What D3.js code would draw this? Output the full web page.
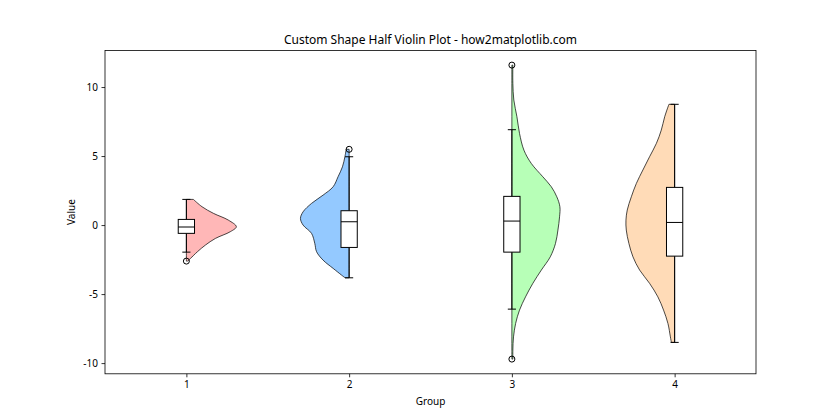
<!DOCTYPE html>
<html><head><meta charset="utf-8">
<script src="https://cdn.jsdelivr.net/npm/d3@7"></script>
<style>body{margin:0;background:#fff}</style>
</head><body>
<svg id="c" width="840" height="420"></svg>
<script>
const groups = [1, 2, 3, 4];
const colors = ['#FF9999', '#66B2FF', '#99FF99', '#FFCC99'];
const sides = ['right', 'left', 'right', 'left'];
const yTicks = [-10, -5, 0, 5, 10];

// violin outlines: value levels and half-widths (in group units)
const v1Val = [1.86, 1.33, 0.85, 0.36, -0.12, -0.48, -0.97, -1.45, -1.93, -2.42, -2.61];
const v1Wid = [0.043, 0.096, 0.166, 0.258, 0.307, 0.27, 0.178, 0.117, 0.068, 0.025, 0.008];
const v2Val = [5.49, 4.95, 4.22, 3.5, 2.78, 2.17, 1.57, 0.96, 0.48, 0.0, -0.6, -1.33, -1.93, -2.54, -3.14, -3.62, -3.82];
const v2Wid = [0.018, 0.026, 0.041, 0.068, 0.098, 0.16, 0.231, 0.283, 0.299, 0.283, 0.231, 0.211, 0.2, 0.16, 0.098, 0.047, 0.025];
const v3Val = [11.59, 10.27, 9.06, 7.85, 6.64, 5.43, 4.47, 3.5, 2.78, 2.05, 1.33, 0.6, -0.36, -1.33, -2.3, -3.26, -4.22, -5.2, -6.16, -7.13, -8.1, -9.06, -9.71];
const v3Wid = [0.006, 0.006, 0.012, 0.031, 0.047, 0.074, 0.119, 0.19, 0.242, 0.276, 0.295, 0.293, 0.283, 0.268, 0.236, 0.181, 0.129, 0.084, 0.047, 0.023, 0.01, 0.006, 0.006];
const v4Val = [8.75, 7.85, 6.88, 5.92, 4.95, 3.99, 3.02, 2.05, 1.09, 0.36, -0.36, -1.33, -2.3, -3.26, -4.22, -5.2, -6.16, -7.13, -8.1, -8.5];
const v4Wid = [0.035, 0.061, 0.082, 0.112, 0.154, 0.195, 0.235, 0.266, 0.291, 0.299, 0.297, 0.281, 0.256, 0.215, 0.154, 0.103, 0.068, 0.041, 0.026, 0.02];
const violinVals = [v1Val, v2Val, v3Val, v4Val];
const violinWids = [v1Wid, v2Wid, v3Wid, v4Wid];

// box plot statistics
const q1 = [-0.60, -1.62, -1.96, -2.25];
const median = [-0.14, 0.24, 0.29, 0.19];
const q3 = [0.41, 1.04, 2.08, 2.73];
const whiskLo = [-1.96, -3.82, -6.09, -8.5];
const whiskHi = [1.86, 4.95, 6.91, 8.75];
const outliers = [[-2.61], [5.49], [11.59, -9.71], []];

const svg = d3.select('#c');
const W = 840, H = 420;
const m = {l: 105, r: 84, t: 50.4, b: 46.2};
const x = d3.scaleLinear().domain([0.5, 4.5]).range([m.l, W - m.r]);
const y = d3.scaleLinear().domain([-10.775, 12.655]).range([H - m.b, m.t]);
const font = "'Noto Sans', 'DejaVu Sans', sans-serif";

// violins
groups.forEach((g, i) => {
  const sgn = sides[i] === 'right' ? 1 : -1;
  const pts = violinVals[i].map((v, k) => ({v, w: violinWids[i][k]}));
  const area = d3.area()
    .y(d => y(d.v))
    .x0(() => x(g))
    .x1(d => x(g + sgn * d.w))
    .curve(d3.curveCatmullRom.alpha(0.5));
  svg.append('path').attr('d', area(pts))
    .attr('fill', colors[i]).attr('fill-opacity', 0.7)
    .attr('stroke', '#000').attr('stroke-opacity', 0.7).attr('stroke-width', 1);
});

// box plots
const boxHalf = 0.05, capHalf = 0.025;
groups.forEach((g, i) => {
  const gr = svg.append('g').attr('stroke', '#000').attr('stroke-width', 1).attr('fill', 'none');
  gr.append('line').attr('x1', x(g)).attr('x2', x(g)).attr('y1', y(q3[i])).attr('y2', y(whiskHi[i]));
  gr.append('line').attr('x1', x(g)).attr('x2', x(g)).attr('y1', y(q1[i])).attr('y2', y(whiskLo[i]));
  gr.append('line').attr('x1', x(g - capHalf)).attr('x2', x(g + capHalf)).attr('y1', y(whiskHi[i])).attr('y2', y(whiskHi[i]));
  gr.append('line').attr('x1', x(g - capHalf)).attr('x2', x(g + capHalf)).attr('y1', y(whiskLo[i])).attr('y2', y(whiskLo[i]));
  gr.append('rect').attr('x', x(g - boxHalf)).attr('width', x(g + boxHalf) - x(g - boxHalf))
    .attr('y', y(q3[i])).attr('height', y(q1[i]) - y(q3[i])).attr('fill', '#fff');
  gr.append('line').attr('x1', x(g - boxHalf)).attr('x2', x(g + boxHalf)).attr('y1', y(median[i])).attr('y2', y(median[i]));
  outliers[i].forEach(o => {
    gr.append('circle').attr('cx', x(g)).attr('cy', y(o)).attr('r', 3);
  });
});

// axes
const xAxis = d3.axisBottom(x).tickValues(groups).tickFormat(d3.format('d')).tickSize(3.5).tickPadding(3.5);
const yAxis = d3.axisLeft(y).tickValues(yTicks).tickFormat(d => d < 0 ? '-' + Math.abs(d) : d).tickSize(3.5).tickPadding(3.5);
const gx = svg.append('g').attr('transform', `translate(0,${H - m.b})`).call(xAxis);
const gy = svg.append('g').attr('transform', `translate(${m.l},0)`).call(yAxis);
[gx, gy].forEach(a => {
  a.select('.domain').remove();
  a.selectAll('line').attr('stroke', '#000').attr('stroke-width', 0.8);
  a.selectAll('text').attr('font-family', font).attr('font-size', 10).attr('fill', '#000');
});

// frame
svg.append('rect').attr('x', m.l).attr('y', m.t).attr('width', W - m.r - m.l).attr('height', H - m.b - m.t)
  .attr('fill', 'none').attr('stroke', '#000').attr('stroke-width', 0.8);

// labels
svg.append('text').attr('x', (m.l + W - m.r) / 2).attr('y', 44).attr('text-anchor', 'middle')
  .attr('font-family', font).attr('font-size', 12).text('Custom Shape Half Violin Plot - how2matplotlib.com');
svg.append('text').attr('x', (m.l + W - m.r) / 2).attr('y', 405).attr('text-anchor', 'middle')
  .attr('font-family', font).attr('font-size', 10).text('Group');
svg.append('text').attr('transform', `translate(75,${(m.t + H - m.b) / 2}) rotate(-90)`).attr('text-anchor', 'middle')
  .attr('font-family', font).attr('font-size', 10).text('Value');
</script>
</body></html>
